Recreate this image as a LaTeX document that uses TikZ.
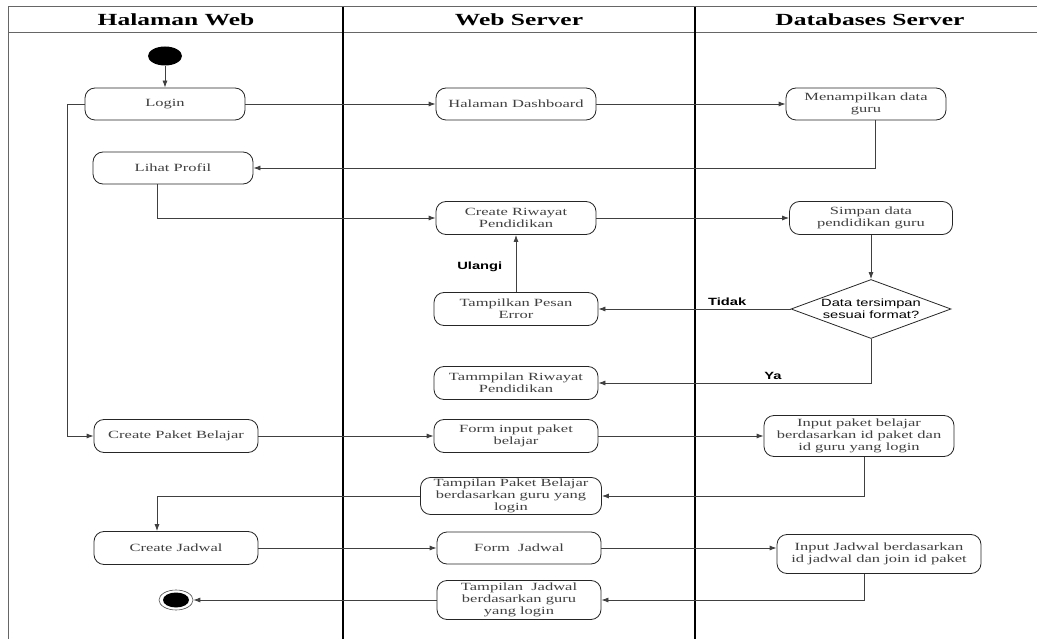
\documentclass[tikz,border=0pt]{standalone}
\usepackage{fontspec}
\setmainfont{Liberation Serif}[FakeStretch=1.5]
\newfontfamily\labelfont{Liberation Sans}[FakeStretch=1.4]
\usetikzlibrary{calc,arrows.meta,shapes.geometric}

\begin{document}
\begin{tikzpicture}[x=1pt,y=-1pt,
	font=\fontsize{11}{12}\selectfont,
	act/.style={draw=black!85, line width=0.8pt, rounded corners=10pt, minimum width=160pt, minimum height=32pt, inner sep=1pt, align=center, text=black!75},
	flow/.style={draw=black!75, line width=0.8pt, -{Latex[length=7pt,width=5pt]}},
	lbl/.style={font=\labelfont\bfseries\fontsize{10.5}{12}\selectfont},
	lane/.style={line width=1.4pt},
	head/.style={font=\bfseries\fontsize{17}{20}\selectfont}]
	        \useasboundingbox (0,0) rectangle (1037,639);
	        \draw[black!60, line width=1pt] (1037,7) -- (8,7) -- (8,639) (8,33) -- (1037,33); %moldura
	        \draw[lane] (343,7) -- (343,639) (695,7) -- (695,639); %divisorias
	        \node[head] (hweb) at (176,20) {Halaman Web};
	        \node[head] (hsrv) at (519,20) {Web Server};
	        \node[head] (hdb) at (870,20) {Databases Server};
	        % halaman web
	        \node[ellipse, fill=black, minimum width=34pt, minimum height=19pt, inner sep=0pt] (start) at (165,56) {};
	        \node[act] (login) at (165,104) {Login};
	        \node[act] (profil) at (173,168) {Lihat Profil};
	        \node[act, minimum width=164pt, minimum height=33pt] (paket) at (176,436) {Create Paket Belajar};
	        \node[act, minimum width=164pt, minimum height=33pt] (jadwal) at (176,548) {Create Jadwal};
	        \node[ellipse, draw=black!70, line width=0.6pt, minimum width=34pt, minimum height=20pt, inner sep=0pt] (stop) at (176,600) {};
	        \fill (stop.center) ellipse[x radius=13pt, y radius=7.5pt];
	        % web server
	        \node[act] (dash) at (516,104) {Halaman Dashboard};
	        \node[act, minimum height=33pt] (riwayat) at (516,218) {Create Riwayat\\Pendidikan};
	        \node[act, minimum width=164pt, minimum height=33pt] (error) at (516,309) {Tampilkan Pesan\\Error};
	        \node[act, minimum width=164pt, minimum height=33pt] (tampilrw) at (516,383) {Tammpilan Riwayat\\Pendidikan};
	        \node[act, minimum width=164pt, minimum height=33pt] (forminput) at (516,436) {Form input paket\\belajar};
	        \node[act, minimum width=181pt, minimum height=37pt, inner sep=0pt] (tampilpaket) at (511,496) {Tampilan Paket Belajar\\berdasarkan guru yang\\login};
	        \node[act, minimum width=164pt] (formjadwal) at (519,548) {Form~~Jadwal};
	        \node[act, minimum width=164pt, minimum height=39pt, inner sep=0pt] (tampiljadwal) at (519,600) {Tampilan~~Jadwal\\berdasarkan guru\\yang login};
	        % databases server
	        \node[act] (menampil) at (866,104) {Menampilkan data\\guru};
	        \node[act, minimum width=163pt, minimum height=33pt] (simpan) at (871,218) {Simpan data\\pendidikan guru};
	        \node[diamond, draw=black!85, line width=0.8pt, aspect=2.7, minimum width=160pt, minimum height=59pt, inner sep=0pt, align=center, font=\labelfont\fontsize{10.5}{12}\selectfont] (cek) at (871,309) {Data tersimpan\\sesuai format?};
	        \node[act, minimum width=190pt, minimum height=41pt, inner sep=0pt] (inputpaket) at (859,436) {Input paket belajar\\berdasarkan id paket dan\\id guru yang login};
	        \node[act, minimum width=204pt, minimum height=39pt] (inputjadwal) at (879,554) {Input Jadwal berdasarkan\\id jadwal dan join id paket};
	        % alur
	        \draw[flow] (start) -- (login);
	        \draw[flow] (login) -- (dash);
	        \draw[flow] (dash) -- (menampil);
	        \draw[flow] ([xshift=9pt]menampil.south) |- (profil.east);
	        \draw[flow] ([xshift=-16pt]profil.south) |- (riwayat.west);
	        \draw[flow] (login.west) -- ++(-17,0) |- (paket.west);
	        \draw[flow] (riwayat) -- (simpan);
	        \draw[flow] (simpan) -- (cek);
	        \draw[flow] (cek.west) -- node[lbl, above, pos=0.33] (tidak) {Tidak} (error.east);
	        \draw[flow] (error) -- node[lbl, left=10pt, pos=0.45] (ulangi) {Ulangi} (riwayat);
	        \draw[flow] (cek.south) |- node[lbl, above, pos=0.68] (ya) {Ya} (tampilrw.east);
	        \draw[flow] (paket) -- (forminput);
	        \draw[flow] (forminput) -- (inputpaket);
	        \draw[flow] ([xshift=5pt]inputpaket.south) |- (tampilpaket.east);
	        \draw[flow] (tampilpaket.west) -| ([xshift=-19pt]jadwal.north);
	        \draw[flow] (jadwal) -- (formjadwal);
	        \draw[flow] (formjadwal.east) -- (formjadwal.east -| inputjadwal.west);
	        \draw[flow] ([xshift=-15pt]inputjadwal.south) |- (tampiljadwal.east);
	        \draw[flow] (tampiljadwal) -- (stop);
	    \end{tikzpicture}
\end{document}
